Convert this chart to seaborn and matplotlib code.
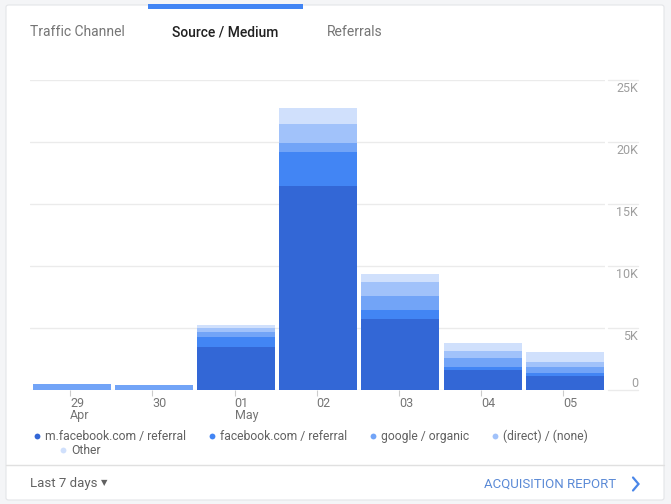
import matplotlib
matplotlib.use("Agg")
import matplotlib.pyplot as plt
import matplotlib.transforms as mtransforms
from matplotlib.patches import FancyBboxPatch, Rectangle
from matplotlib.lines import Line2D
import seaborn as sns
import pandas as pd

# ---- data ----
days = ["29", "30", "01", "02", "03", "04", "05"]
day_labels = ["29\nApr", "30", "01\nMay", "02", "03", "04", "05"]
m_facebook = [0, 0, 3440, 16480, 5700, 1610, 1150]
facebook = [0, 0, 810, 2720, 750, 270, 190]
google = [460, 380, 400, 700, 1130, 680, 540]
direct = [0, 0, 350, 1560, 1130, 590, 400]
other = [0, 0, 220, 1310, 650, 650, 780]
series_names = ["m.facebook.com / referral", "facebook.com / referral",
                "google / organic", "(direct) / (none)", "Other"]
colors = ["#3367d6", "#4285f4", "#72a4f7", "#a1c2fa", "#d0e0fc"]
tabs = ["Traffic Channel", "Source / Medium", "Referrals"]
y_ticks = [0, 5000, 10000, 15000, 20000, 25000]
y_tick_labels = ["0", "5K", "10K", "15K", "20K", "25K"]

sns.set_style("white")
plt.rcParams["font.family"] = ["Roboto", "DejaVu Sans"]

W, H = 671, 504
fig = plt.figure(figsize=(W / 100, H / 100), dpi=100)
fig.patch.set_facecolor("#f4f5f7")

def fx(x):
    return x / W

def fy(y):
    return 1 - y / H

# card
card = FancyBboxPatch((fx(6), fy(500)), fx(664) - fx(6), fy(5) - fy(500),
                      boxstyle="round,pad=0,rounding_size=0.004",
                      transform=fig.transFigure, facecolor="white",
                      edgecolor="#e3e5e8", linewidth=0.8, zorder=0)
fig.add_artist(card)
# active tab indicator
fig.add_artist(Rectangle((fx(148), fy(8.5)), fx(303) - fx(148), fy(4) - fy(8.5),
                         transform=fig.transFigure, facecolor="#4285f4",
                         edgecolor="none", zorder=2))
# tabs
fig.text(fx(30), fy(32.5), tabs[0], fontsize=10, color="#757575", va="center", ha="left")
fig.text(fx(172), fy(32.5), tabs[1], fontsize=10, color="#212121", va="center", ha="left",
         fontweight="medium")
fig.text(fx(327), fy(32.5), tabs[2], fontsize=10, color="#757575", va="center", ha="left")

# ---- chart ----
ax = fig.add_axes([fx(30), fy(390), fx(605) - fx(30), fy(80) - fy(390)])
ax.set_facecolor("none")

df = pd.DataFrame({"day": days, "m": m_facebook, "fb": facebook, "g": google,
                   "d": direct, "o": other})
layers = ["m", "fb", "g", "d", "o"]
for k in range(len(layers) - 1, -1, -1):
    df["cum"] = df[layers[: k + 1]].sum(axis=1)
    sns.barplot(data=df, x="day", y="cum", order=days, color=colors[k],
                saturation=1, width=0.95, edgecolor="none", linewidth=0,
                ax=ax, zorder=3)

ax.set_xlim(-0.51, 6.49)
ax.set_ylim(0, 25000)
ax.set_xlabel("")
ax.set_ylabel("")
for s in ax.spines.values():
    s.set_visible(False)

ax.set_yticks(y_ticks)
ax.set_yticklabels(y_tick_labels)
ax.yaxis.grid(True, color="#ebebeb", linewidth=1)
ax.set_axisbelow(True)
ax.tick_params(axis="y", left=False, right=False, labelleft=False, labelright=True,
               length=0, pad=23.8, labelsize=9, labelcolor="#9e9e9e")
for t, lab in zip(ax.get_yticklabels(), y_tick_labels):
    t.set_horizontalalignment("right")
    if lab == "0":
        t.set_verticalalignment("bottom")
    else:
        t.set_verticalalignment("top")
        t.set_transform(t.get_transform() +
                        mtransforms.ScaledTranslation(0, -2 / 100, fig.dpi_scale_trans))
# grid extension under the labels
for yv in y_ticks:
    ax.plot([1.005, 1.057], [yv, yv], transform=ax.get_yaxis_transform(),
            color="#ebebeb", linewidth=1, clip_on=False, zorder=1)

ax.set_xticks([i - 0.02 for i in range(len(days))])
ax.set_xticklabels(day_labels)
ax.tick_params(axis="x", bottom=True, length=4, width=0.8, color="#cccccc",
               labelsize=9, labelcolor="#757575", pad=1)
for t in ax.get_xticklabels():
    t.set_horizontalalignment("left")
    t.set_linespacing(0.95)

# ---- legend ----
handles = [Line2D([], [], linestyle="none", marker="o", markersize=4.2,
                  markerfacecolor=c, markeredgecolor="none") for c in colors]
leg_kw = dict(frameon=False, fontsize=8.7, handlelength=0.5, handletextpad=0.45,
              borderpad=0, borderaxespad=0)
leg1 = fig.legend(handles[:4], series_names[:4], loc="upper left",
                  bbox_to_anchor=(fx(34), fy(429.5)), ncol=4,
                  columnspacing=1.85, **leg_kw)
for t in leg1.get_texts():
    t.set_color("#616161")
leg2 = fig.legend(handles[4:], series_names[4:], loc="upper left",
                  bbox_to_anchor=(fx(60), fy(444.5)), ncol=1, **leg_kw)
for t in leg2.get_texts():
    t.set_color("#616161")

# ---- footer ----
fig.add_artist(Line2D([fx(6), fx(664)], [fy(464.5), fy(464.5)], transform=fig.transFigure,
                      color="#e0e0e0", linewidth=1))
fig.text(fx(30), fy(484), "Last 7 days", fontsize=9.5, color="#616161", va="center", ha="left")
fig.text(fx(104), fy(483), "▼", fontsize=6, color="#616161", va="center", ha="center",
         family=["DejaVu Sans"])
fig.text(fx(616), fy(484), "ACQUISITION REPORT", fontsize=9.5, color="#5b8ad6",
         va="center", ha="right")
fig.add_artist(Line2D([fx(633), fx(638.5), fx(633)], [fy(477.5), fy(484), fy(490.5)],
                      transform=fig.transFigure, color="#4a86e8", linewidth=1.6,
                      solid_joinstyle="miter"))

fig.savefig("out.png", dpi=100, facecolor=fig.get_facecolor())
